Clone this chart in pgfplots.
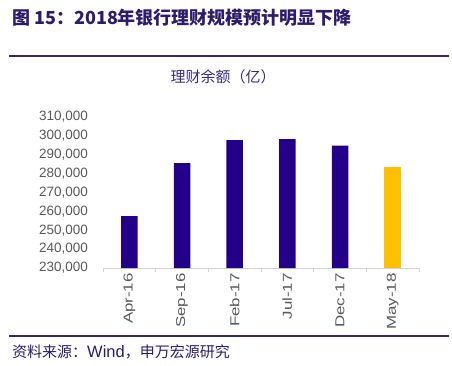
\documentclass[border=0pt]{standalone}
\usepackage{fontspec}
\usepackage{graphicx}
\setmainfont{Liberation Sans}
\newfontfamily\arial{Liberation Sans}
\newfontfamily\cjk{Noto Sans CJK SC}
\usepackage{pgfplots}
\pgfplotsset{compat=1.18}
\definecolor{barblue}{HTML}{220088}
\definecolor{baryellow}{HTML}{FFC000}
\definecolor{ttl}{HTML}{2E1C6B}
\definecolor{sub}{HTML}{3B2A7B}
\definecolor{rule}{HTML}{3A2467}
\definecolor{tick}{HTML}{595959}
\newcommand{\xl}[1]{\scalebox{1.3}[1]{\arial #1}}
\begin{document}
\begin{tikzpicture}
\path[use as bounding box] (0,0) rectangle (452pt,365pt);
% header / footer
\node[anchor=west, inner sep=0pt, text=ttl] at (12pt,347pt)
  {\fontsize{18}{18}\selectfont\cjk\bfseries 图\hspace{4pt}15：2018年银行理财规模预计明显下降};
\draw[rule, line width=2pt] (9pt,308.5pt) -- (449pt,308.5pt);
\draw[rule, line width=2.5pt] (9pt,29pt) -- (449pt,29pt);
\node[anchor=west, inner sep=0pt, text=ttl] at (12pt,13pt)
  {\fontsize{15}{15}\selectfont\cjk 资料来源：{\fontsize{16.5}{16.5}\selectfont\arial Wind}，申万宏源研究};
\node[inner sep=0pt, text=sub] at (223pt,288pt)
  {\fontsize{15}{15}\selectfont\cjk 理财余额（亿）};
\begin{axis}[
  at={(103pt,97pt)}, anchor=south west,
  scale only axis, width=316pt, height=151pt,
  xmin=-0.5, xmax=5.5, ymin=230000, ymax=310000,
  ytick={230000,240000,...,310000},
  scaled y ticks=false,
  axis lines=left,
  axis line style={-},
  y axis line style={draw=none},
  x axis line style={draw=gray!35, line width=0.8pt},
  major tick length=0pt,
  tick align=outside,
  xtick={0,1,2,3,4,5},
  xticklabels={\xl{Apr-16},\xl{Sep-16},\xl{Feb-17},\xl{Jul-17},\xl{Dec-17},\xl{May-18}},
  extra x ticks={-0.5,0.5,1.5,2.5,3.5,4.5,5.5},
  extra x tick labels={{},{},{},{},{},{},{}},
  extra x tick style={major tick length=4pt, tick style={draw=gray!35, line width=0.8pt}},
  x tick label style={rotate=90, anchor=east, inner sep=0pt, text=tick, font=\fontsize{13}{13}\selectfont\arial},
  y tick label style={anchor=east, inner sep=0pt, text=tick, font=\fontsize{13.5}{13.5}\selectfont\arial,
    /pgf/number format/.cd, fixed, precision=0, 1000 sep={,}, assume math mode=true},
  yticklabel shift=15pt,
  xticklabel shift=5pt,
  ybar, bar width=16.5pt,
]
\addplot[ybar, bar shift=0pt, fill=barblue, draw=none] coordinates {(0,257500) (1,285600) (2,297800) (3,298300) (4,294800)};
\addplot[ybar, bar shift=0pt, fill=baryellow, draw=none] coordinates {(5,283300)};
\end{axis}
\end{tikzpicture}
\end{document}
